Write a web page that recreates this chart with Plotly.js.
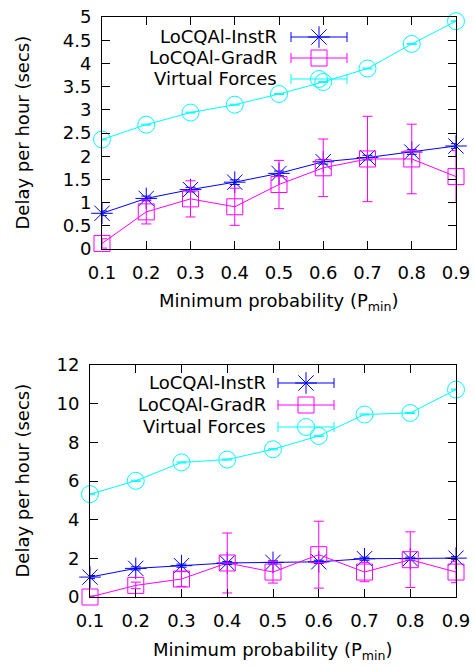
<!DOCTYPE html>
<html><head><meta charset="utf-8">
<script src="https://cdn.plot.ly/plotly-3.0.1.min.js"></script>
<style>html,body{margin:0;padding:0;background:#fff}</style>
</head><body><div id="chart" style="width:475px;height:668px"></div>
<script>
// ---------- data ----------
const pmin = [0.1, 0.2, 0.3, 0.4, 0.5, 0.6, 0.7, 0.8, 0.9];
const tickLabels = ["0.1","0.2","0.3","0.4","0.5","0.6","0.7","0.8","0.9"];
const seriesNames = ["LoCQAl-InstR", "LoCQAl-GradR", "Virtual Forces"];

// top panel
const topInstR    = [0.77, 1.09, 1.28, 1.44, 1.63, 1.88, 1.97, 2.09, 2.22];
const topInstRErr = [0.05, 0.05, 0.05, 0.05, 0.05, 0.05, 0.05, 0.05, 0.05];
const topGradR    = [0.12, 0.80, 1.08, 0.91, 1.39, 1.75, 1.94, 1.94, 1.56];
const topGradRErr = [0.10, 0.26, 0.39, 0.40, 0.52, 0.62, 0.92, 0.75, 0.56];
const topVF       = [2.36, 2.68, 2.94, 3.11, 3.34, 3.60, 3.89, 4.42, 4.91];
const topVFErr    = [0.01, 0.01, 0.01, 0.01, 0.01, 0.01, 0.01, 0.01, 0.01];

// bottom panel
const botInstR    = [1.03, 1.48, 1.62, 1.76, 1.79, 1.82, 1.98, 1.98, 2.01];
const botInstRErr = [0.08, 0.08, 0.08, 0.08, 0.08, 0.08, 0.08, 0.08, 0.08];
const botGradR    = [0.00, 0.60, 0.93, 1.76, 1.29, 2.19, 1.29, 1.93, 1.29];
const botGradRErr = [0.05, 0.17, 0.38, 1.55, 0.57, 1.73, 0.50, 1.44, 0.55];
const botVF       = [5.32, 6.01, 6.96, 7.11, 7.64, 8.33, 9.44, 9.52, 10.73];
const botVFErr    = [0.03, 0.03, 0.03, 0.03, 0.03, 0.03, 0.03, 0.03, 0.03];

// ---------- styles ----------
const colors  = ["#0000ff", "#ff00ff", "#00ffff"];
const symbols = ["asterisk-open", "square-open", "circle-open"];
const msizes  = [18, 16, 17];
const FONT = "DejaVu Sans, sans-serif";
const FS = 18;

function series(x, y, err, i, xa, ya) {
  return {
    x: x, y: y, xaxis: xa, yaxis: ya, type: "scatter", mode: "lines+markers",
    name: seriesNames[i], showlegend: false, cliponaxis: false,
    line: {color: colors[i], width: 1},
    marker: {symbol: symbols[i], size: msizes[i], color: colors[i], line: {color: colors[i], width: 1}},
    error_y: {type: "data", array: err, visible: true, color: colors[i], thickness: 1, width: 5}
  };
}

// legend key (drawn in a pixel-like overlay axis)
function key(i, cx, cy, half, xa, ya) {
  return {
    x: [cx], y: [cy], xaxis: xa, yaxis: ya, type: "scatter", mode: "markers",
    showlegend: false, cliponaxis: false, hoverinfo: "skip",
    marker: {symbol: symbols[i], size: msizes[i], color: colors[i], line: {color: colors[i], width: 1}},
    error_x: {type: "constant", value: half, visible: true, color: colors[i], thickness: 1, width: 5}
  };
}

const data = [
  series(pmin, topInstR, topInstRErr, 0, "x", "y"),
  series(pmin, topGradR, topGradRErr, 1, "x", "y"),
  series(pmin, topVF, topVFErr, 2, "x", "y"),
  series(pmin, botInstR, botInstRErr, 0, "x2", "y2"),
  series(pmin, botGradR, botGradRErr, 1, "x2", "y2"),
  series(pmin, botVF, botVFErr, 2, "x2", "y2"),
];
const topKeyRows = [37, 58, 79], botKeyRows = [383, 405, 427];
for (let i = 0; i < 3; i++) {
  data.push(key(i, 319, topKeyRows[i], 28, "x3", "y3"));
  data.push(key(i, 306, botKeyRows[i], 28, "x4", "y4"));
}

const W = 475, H = 668;
function xd(a, b) { return [a / W, b / W]; }
function yd(top, bot) { return [(H - bot) / H, (H - top) / H]; }

function xaxisCfg(dom) {
  return {
    domain: dom, range: [0.1, 0.9], tickvals: pmin, ticktext: tickLabels,
    ticks: "inside", ticklen: 8, tickcolor: "#000", tickwidth: 1,
    showline: true, linecolor: "#000", linewidth: 1, mirror: "ticks",
    showgrid: false, zeroline: false, automargin: false, ticklabelstandoff: 7,
    tickfont: {family: FONT, size: FS, color: "#000"}
  };
}
function yaxisCfg(dom, range, dtick, anchor) {
  return {
    domain: dom, range: range, dtick: dtick, tick0: 0, anchor: anchor,
    ticks: "inside", ticklen: 8, tickcolor: "#000", tickwidth: 1,
    showline: true, linecolor: "#000", linewidth: 1, mirror: "ticks",
    showgrid: false, zeroline: false, automargin: false, ticklabelstandoff: 6,
    tickfont: {family: FONT, size: FS, color: "#000"}
  };
}

const topX = xd(102, 456), topY = yd(17, 249);
const botX = xd(90, 456),  botY = yd(365, 597);

const layout = {
  width: W, height: H, margin: {l: 0, r: 0, t: 0, b: 0},
  paper_bgcolor: "#fff", plot_bgcolor: "rgba(0,0,0,0)", showlegend: false,
  font: {family: FONT, size: FS, color: "#000"},
  xaxis: Object.assign(xaxisCfg(topX), {anchor: "y"}),
  yaxis: yaxisCfg(topY, [0, 5], 0.5, "x"),
  xaxis2: Object.assign(xaxisCfg(botX), {anchor: "y2"}),
  yaxis2: yaxisCfg(botY, [0, 12], 2, "x2"),
  xaxis3: {overlaying: "x", anchor: "y3", range: [102, 456], visible: false},
  yaxis3: {overlaying: "y", anchor: "x3", range: [249, 17], visible: false},
  xaxis4: {overlaying: "x2", anchor: "y4", range: [90, 456], visible: false},
  yaxis4: {overlaying: "y2", anchor: "x4", range: [597, 365], visible: false},
  annotations: [
    {text: "Delay per hour (secs)", textangle: -90, xref: "paper", yref: "paper",
     x: 21.5 / W, y: (H - 133) / H, xanchor: "center", yanchor: "middle", showarrow: false},
    {text: "Delay per hour (secs)", textangle: -90, xref: "paper", yref: "paper",
     x: 21.5 / W, y: (H - 481) / H, xanchor: "center", yanchor: "middle", showarrow: false},
    {text: "Minimum probability (P<sub>min</sub>)", xref: "paper", yref: "paper",
     x: 279 / W, y: (H - 302) / H, xanchor: "center", yanchor: "middle", showarrow: false},
    {text: "Minimum probability (P<sub>min</sub>)", xref: "paper", yref: "paper",
     x: 273 / W, y: (H - 651) / H, xanchor: "center", yanchor: "middle", showarrow: false}
  ]
};
for (let i = 0; i < 3; i++) {
  layout.annotations.push({text: seriesNames[i], xref: "x3", yref: "y3", x: 279, y: topKeyRows[i],
    xanchor: "right", yanchor: "middle", showarrow: false});
  layout.annotations.push({text: seriesNames[i], xref: "x4", yref: "y4", x: 268, y: botKeyRows[i],
    xanchor: "right", yanchor: "middle", showarrow: false});
}

Plotly.newPlot("chart", data, layout, {staticPlot: true, displayModeBar: false});
</script>
</body></html>
